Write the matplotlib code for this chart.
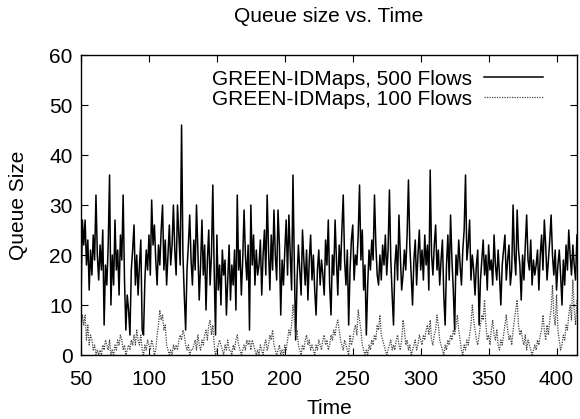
import numpy as np
import matplotlib
matplotlib.use("Agg")
import matplotlib.pyplot as plt

# Zeitachse: ein Wert pro Zeiteinheit
t_start = 50
t_end = 415

# Queue size, 500 Flows
q500 = [
    11, 27, 22, 27, 18, 23, 13, 21, 16, 24,
    19, 32, 20, 15, 22, 17, 25, 6, 18, 14,
    22, 36, 10, 20, 14, 27, 17, 21, 12, 24,
    19, 32, 15, 5, 12, 9, 4, 17, 21, 26,
    14, 20, 12, 18, 23, 5, 4, 15, 21, 17,
    24, 16, 31, 22, 26, 19, 14, 22, 18, 25,
    30, 17, 23, 14, 20, 26, 18, 22, 30, 21,
    16, 30, 24, 18, 46, 20, 12, 5, 17, 22,
    28, 19, 14, 23, 17, 30, 21, 11, 18, 27,
    16, 22, 9, 19, 25, 14, 20, 34, 17, 4,
    24, 13, 18, 10, 21, 16, 19, 8, 15, 22,
    11, 18, 14, 21, 9, 32, 17, 21, 12, 19,
    29, 20, 15, 22, 5, 30, 18, 24, 14, 21,
    16, 18, 23, 12, 20, 25, 16, 32, 21, 13,
    24, 17, 29, 20, 15, 29, 22, 8, 19, 14,
    21, 27, 16, 28, 20, 13, 36, 18, 3, 15,
    22, 17, 12, 25, 19, 14, 21, 11, 19, 24,
    15, 20, 13, 8, 17, 21, 14, 19, 16, 12,
    23, 18, 27, 14, 8, 20, 16, 27, 19, 12,
    22, 17, 25, 32, 19, 14, 21, 6, 17, 23,
    26, 15, 20, 18, 24, 34, 19, 25, 13, 18,
    4, 14, 21, 17, 23, 19, 32, 22, 16, 14,
    20, 15, 22, 18, 24, 16, 21, 33, 19, 12,
    6, 18, 22, 15, 28, 20, 13, 16, 21, 17,
    24, 35, 22, 16, 10, 19, 23, 14, 20, 25,
    17, 21, 15, 24, 18, 22, 13, 37, 20, 16,
    22, 26, 17, 21, 14, 19, 23, 12, 6, 18,
    24, 15, 28, 19, 13, 5, 20, 16, 23, 18,
    14, 21, 25, 36, 19, 22, 27, 15, 20, 17,
    12, 18, 21, 6, 15, 19, 23, 16, 20, 13,
    22, 17, 19, 14, 24, 18, 15, 21, 16, 10,
    18, 21, 24, 15, 19, 22, 14, 17, 30, 20,
    16, 29, 21, 18, 11, 20, 15, 22, 28, 19,
    17, 23, 14, 19, 16, 18, 21, 13, 20, 24,
    17, 27, 22, 15, 19, 23, 28, 20, 16, 21,
    13, 18, 21, 16, 10, 19, 14, 22, 17, 25,
    20, 16, 22, 18, 15, 24,
]

# Queue size, 100 Flows
q100 = [
    5, 8, 6, 8, 3, 6, 2, 4, 3, 1,
    2, 0, 1, 0, 1, 0, 2, 1, 3, 2,
    1, 3, 0, 1, 0, 2, 1, 3, 2, 4,
    3, 1, 2, 0, 1, 2, 1, 3, 2, 4,
    2, 5, 3, 2, 4, 1, 0, 2, 1, 3,
    2, 1, 3, 2, 0, 1, 4, 6, 9, 7,
    8, 5, 6, 2, 1, 0, 1, 0, 2, 1,
    2, 1, 3, 4, 3, 5, 4, 2, 1, 2,
    0, 1, 1, 2, 3, 1, 4, 2, 1, 3,
    2, 4, 5, 3, 6, 7, 4, 6, 2, 0,
    1, 2, 3, 2, 1, 0, 2, 1, 3, 1,
    1, 0, 2, 1, 3, 4, 2, 1, 0, 1,
    2, 1, 3, 2, 3, 1, 3, 2, 1, 0,
    1, 0, 2, 1, 0, 2, 3, 1, 2, 4,
    3, 5, 2, 1, 0, 1, 2, 0, 1, 0,
    2, 1, 3, 5, 4, 6, 10, 7, 4, 5,
    2, 1, 0, 2, 1, 3, 4, 2, 3, 1,
    2, 1, 0, 2, 1, 3, 2, 1, 3, 4,
    2, 3, 1, 2, 4, 3, 5, 4, 6, 7,
    5, 3, 2, 1, 3, 2, 1, 0, 4, 2,
    3, 5, 6, 4, 9, 7, 5, 2, 1, 0,
    1, 0, 2, 1, 3, 2, 4, 3, 6, 5,
    8, 4, 3, 2, 1, 0, 1, 2, 3, 1,
    2, 1, 3, 4, 2, 1, 3, 7, 5, 2,
    3, 1, 2, 0, 1, 2, 3, 1, 2, 4,
    3, 2, 4, 3, 5, 6, 4, 7, 3, 2,
    4, 5, 8, 6, 3, 2, 1, 0, 2, 1,
    3, 2, 4, 3, 5, 4, 6, 8, 5, 3,
    1, 0, 2, 1, 3, 2, 4, 6, 10, 7,
    5, 3, 2, 4, 6, 8, 7, 11, 6, 3,
    4, 2, 5, 7, 4, 3, 5, 2, 1, 3,
    2, 4, 6, 8, 5, 3, 4, 2, 5, 7,
    9, 11, 6, 4, 5, 3, 2, 4, 1, 3,
    2, 1, 0, 1, 2, 1, 3, 2, 4, 5,
    8, 5, 3, 6, 4, 7, 9, 14, 8, 6,
    12, 5, 3, 1, 2, 4, 3, 6, 5, 8,
    10, 7, 15, 9, 6, 11,
]

time = np.arange(t_start, t_end + 1)

plt.rcParams['font.family'] = ['Liberation Sans', 'DejaVu Sans']
plt.rcParams['font.size'] = 15

fig = plt.figure(figsize=(5.8, 4.19), dpi=100)
ax = fig.add_axes([0.1397, 0.1527, 0.855, 0.716])

ax.plot(time, q500, color='black', lw=1.1, label='GREEN-IDMaps, 500 Flows')
ax.plot(time, q100, color='#444444', lw=0.9, ls=(0, (1, 1)), label='GREEN-IDMaps, 100 Flows')

ax.set_xlim(50, 415)
ax.set_ylim(0, 60)
ax.set_xticks(range(50, 401, 50))
ax.set_yticks(range(0, 61, 10))
ax.tick_params(direction='in', length=5, width=0.8, top=True, right=True, labelsize=15)
ax.tick_params(axis='x', pad=11)
ax.tick_params(axis='y', pad=6)
for s in ax.spines.values():
    s.set_linewidth(1.0)

ax.set_title('Queue size vs. Time', fontsize=15, pad=24)
ax.set_xlabel('Time', fontsize=15, labelpad=7)
ax.set_ylabel('Queue Size', fontsize=15, labelpad=15)

ax.legend(loc='upper right', bbox_to_anchor=(0.96, 1.0), frameon=False, markerfirst=False,
          handlelength=2.8, labelspacing=0.05, handletextpad=0.6, borderpad=0.2, fontsize=15)

fig.savefig('out.png', dpi=100)
